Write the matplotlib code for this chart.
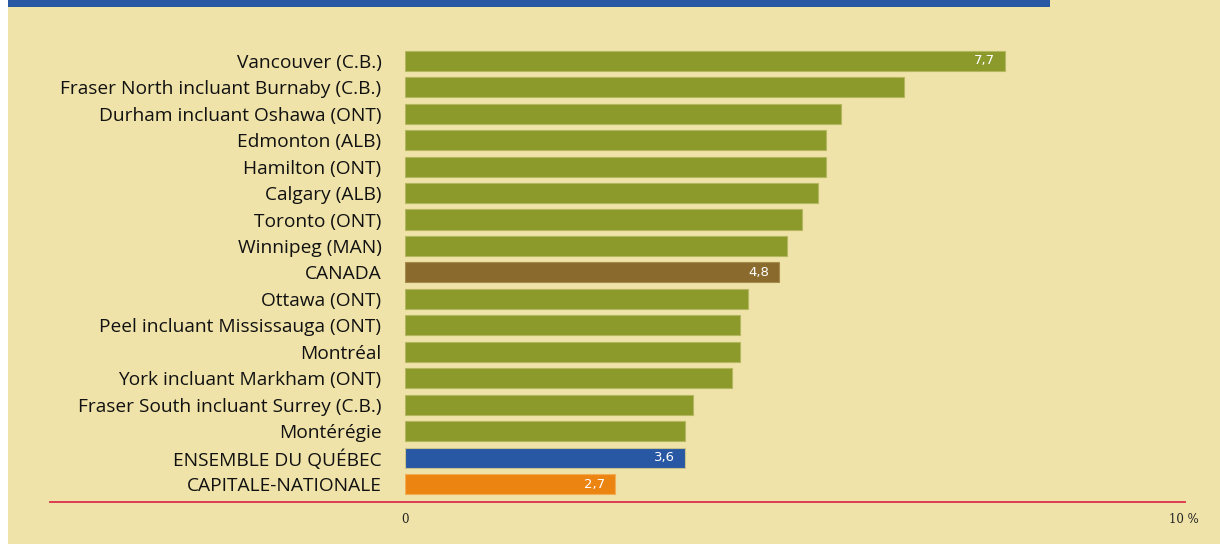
import matplotlib.pyplot as plt
from matplotlib.patches import Rectangle
import matplotlib.transforms as mtransforms

regions = [
    "Vancouver (C.B.)",
    "Fraser North incluant Burnaby (C.B.)",
    "Durham incluant Oshawa (ONT)",
    "Edmonton (ALB)",
    "Hamilton (ONT)",
    "Calgary (ALB)",
    "Toronto (ONT)",
    "Winnipeg (MAN)",
    "CANADA",
    "Ottawa (ONT)",
    "Peel incluant Mississauga (ONT)",
    "Montréal",
    "York incluant Markham (ONT)",
    "Fraser South incluant Surrey (C.B.)",
    "Montérégie",
    "ENSEMBLE DU QUÉBEC",
    "CAPITALE-NATIONALE",
]
values = [7.7, 6.4, 5.6, 5.4, 5.4, 5.3, 5.1, 4.9, 4.8, 4.4, 4.3, 4.3, 4.2, 3.7, 3.6, 3.6, 2.7]
labelled = {"Vancouver (C.B.)": "7,7", "CANADA": "4,8",
            "ENSEMBLE DU QUÉBEC": "3,6", "CAPITALE-NATIONALE": "2,7"}

BG = "#efe3a9"
OLIVE = "#8b9a2b"
special = {"CANADA": "#8a6a2d", "ENSEMBLE DU QUÉBEC": "#2857a4",
           "CAPITALE-NATIONALE": "#ec8412"}
edges = {"CANADA": "#a88a4a", "ENSEMBLE DU QUÉBEC": "#c9c28a",
         "CAPITALE-NATIONALE": "#f2ad55"}

fig = plt.figure(figsize=(12.2, 5.44), dpi=100)
fig.patch.set_facecolor(BG)
# white strip on the left and the blue header band
fig.patches.append(Rectangle((0, 0), 8 / 1220, 1, transform=fig.transFigure,
                             facecolor="white", edgecolor="none"))
fig.patches.append(Rectangle((8 / 1220, 1 - 7 / 544), 1042 / 1220, 7 / 544,
                             transform=fig.transFigure, facecolor="#2857a4",
                             edgecolor="none"))

ax = fig.add_axes([405 / 1220, 42 / 544, 779 / 1220, 457 / 544])
ax.set_facecolor(BG)
ypos = list(range(len(regions)))
colors = [special.get(r, OLIVE) for r in regions]
ecolors = [edges.get(r, "#b4b760") for r in regions]
ax.barh(ypos, values, height=0.76, color=colors, edgecolor=ecolors, linewidth=0.8)

for y, r, v in zip(ypos, regions, values):
    if r in labelled:
        ax.text(v - 0.13, y, labelled[r], ha="right", va="center", color="white",
                fontsize=9.5, family=["Liberation Sans Narrow", "DejaVu Sans"])

ax.set_xlim(0, 10)
ax.set_ylim(16.68, -0.6)
ax.set_yticks(ypos)
ax.set_yticklabels(regions, fontsize=13.8, family="Open Sans", color="#111111")
ax.set_xticks([0, 10])
ax.set_xticklabels(["0", "10 %"], fontsize=8.5, family="DejaVu Serif", color="#222222")
ax.tick_params(axis="y", length=0, pad=17)
ax.tick_params(axis="x", length=0, pad=8)
for s in ax.spines.values():
    s.set_visible(False)

# red baseline reaching under the labels
trans = mtransforms.blended_transform_factory(fig.transFigure, ax.transData)
ax.plot([50 / 1220, 1185 / 1220], [16.68, 16.68], transform=trans,
        color="#d9304a", lw=1.3, clip_on=False)

fig.savefig("out.png", dpi=100, facecolor=fig.get_facecolor())
